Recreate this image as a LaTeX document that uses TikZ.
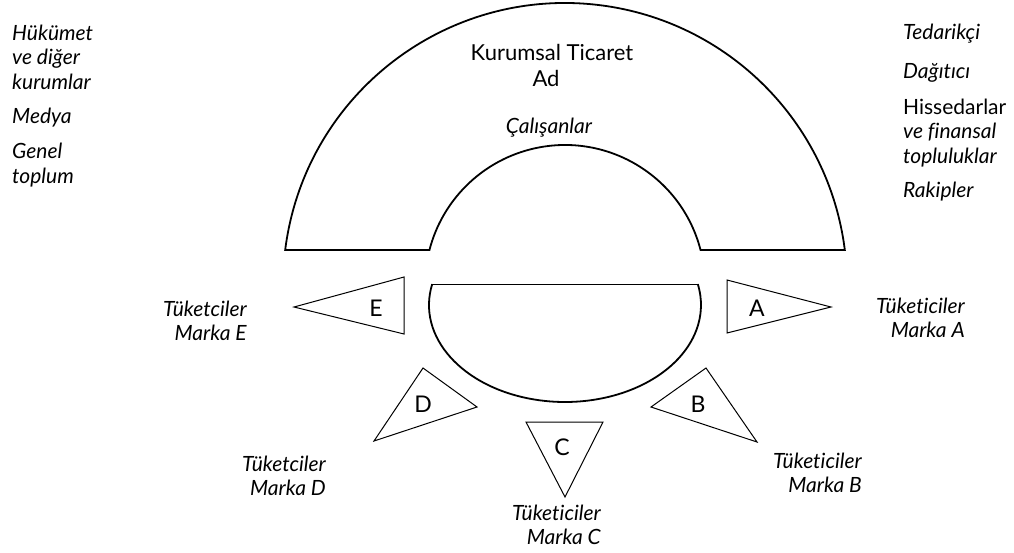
\documentclass[tikz,border=0pt]{standalone}
\usepackage{fontspec}
\setmainfont{Lato}[Ligatures=NoCommon]
\usetikzlibrary{calc}
\begin{document}
\begin{tikzpicture}[x=1pt,y=1pt,
  lbl/.style={font=\fontsize{21}{24.5}\selectfont\itshape,inner sep=0pt},
  lblup/.style={font=\fontsize{22}{26}\selectfont,inner sep=0pt},
  tri/.style={draw,line width=1pt,line join=miter},
  shell/.style={draw,line width=1.8pt},
  letter/.style={font=\fontsize{23}{26}\selectfont,inner sep=0pt}]
\useasboundingbox (0,0) rectangle (1014,-552);
% upper shell (company)
\coordinate (O) at (565,-285);
\draw[shell] ($(O)+(172.87:282)$) arc[start angle=172.87,end angle=7.13,radius=282]
  -- ($(O)+(14.48:140)$) arc[start angle=14.48,end angle=165.52,radius=140] -- cycle;
\node[lblup] (corp) at (552,-52) {Kurumsal Ticaret};
\node[lblup] (ad) at (546,-78) {Ad};
\node[lbl] (emp) at (549,-128) {Çalışanlar};
% bowl
\coordinate (B) at (565,-305);
\coordinate (bowlL) at ($(B)+(167.5:136 and 97)$);
\coordinate (bowlR) at ($(B)+(12.5:136 and 97)$);
\draw[line width=1.8pt] (bowlL) arc[start angle=167.5,end angle=372.5,x radius=136,y radius=97];
\draw[line width=0.9pt] (bowlL) -- (bowlR);
% triangles
\draw[tri] (294,-307) -- (404,-277) -- (404,-334) -- cycle;
\node[letter] (E) at (376,-308) {E};
\draw[tri] (727,-280) -- (831,-307) -- (727,-333) -- cycle;
\node[letter] (A) at (757,-308) {A};
\draw[tri] (423,-368) -- (477,-407) -- (374,-441) -- cycle;
\node[letter] (D) at (423,-404) {D};
\draw[tri] (706,-368) -- (651,-407) -- (757,-442) -- cycle;
\node[letter] (Bl) at (698,-404) {B};
\draw[tri] (526,-422) -- (603,-422) -- (565,-497) -- cycle;
\node[letter] (C) at (562,-447) {C};
% consumer labels
\node[lbl,align=right,anchor=east] (cA) at (965,-318) {Tüketiciler\\Marka A};
\node[lbl,align=right,anchor=east] (cB) at (862,-473) {Tüketiciler\\Marka B};
\node[lbl,align=right,anchor=east] (cC) at (601,-525) {Tüketiciler\\Marka C};
\node[lbl,align=right,anchor=east] (cD) at (326,-476) {Tüketciler\\Marka D};
\node[lbl,align=right,anchor=east] (cE) at (247,-321) {Tüketciler\\Marka E};
% left column
\node[lbl,align=left,anchor=west] (gov) at (12,-57) {Hükümet\\ve diğer\\kurumlar};
\node[lbl,anchor=west] (med) at (12,-118) {Medya};
\node[lbl,align=left,anchor=west] (pub) at (12,-165) {Genel\\toplum};
% right column
\node[lbl,anchor=west] (sup) at (903,-34) {Tedarikçi};
\node[lbl,anchor=west] (dist) at (903,-73) {Dağıtıcı};
\node[lbl,align=left,anchor=west] (sh) at (903,-133) {\upshape Hissedarlar\\ve finansal\\topluluklar};
\node[lbl,anchor=west] (comp) at (903,-192) {Rakipler};
\end{tikzpicture}
\end{document}
